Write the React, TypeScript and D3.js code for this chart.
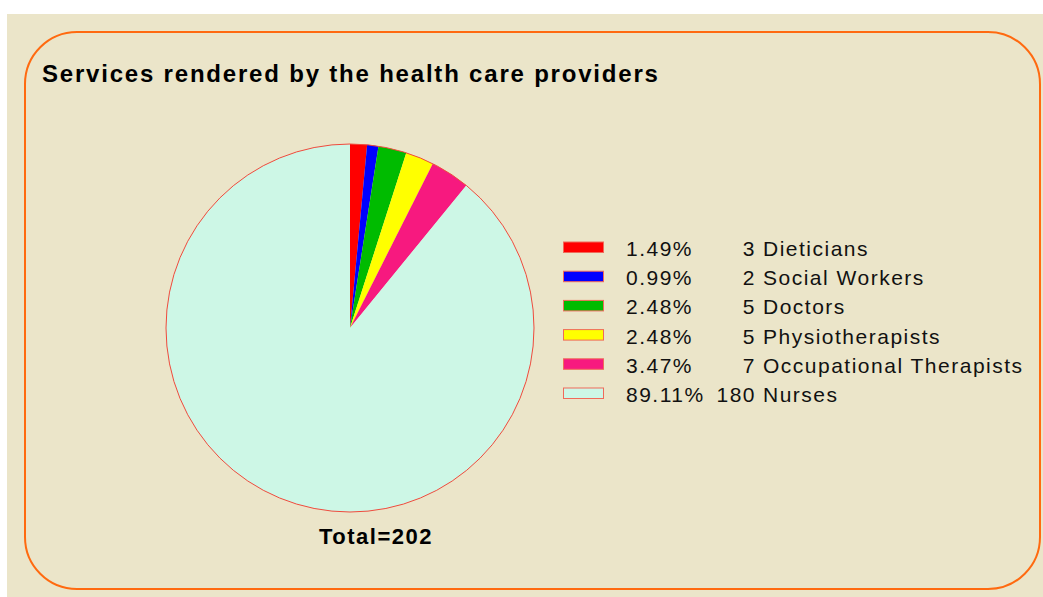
import * as d3 from "d3"

const categories = ["Dieticians", "Social Workers", "Doctors", "Physiotherapists", "Occupational Therapists", "Nurses"]
const counts = [3, 2, 5, 5, 7, 180]
const percentLabels = ["1.49%", "0.99%", "2.48%", "2.48%", "3.47%", "89.11%"]
const colors = ["#ff0000", "#0000ff", "#00bb00", "#ffff00", "#f7197f", "#cdf7e6"]
const title = "Services rendered by the health care providers"
const totalLabel = "Total=202"

export default function App() {
  const width = 1043
  const height = 597
  const cx = 350
  const cy = 328
  const radius = 184

  const pie = d3.pie<number>().sort(null).value((d) => d)
  const arcs = pie(counts)
  const arc = d3.arc<d3.PieArcDatum<number>>().innerRadius(0).outerRadius(radius)

  // legend rows
  const rowY = d3.scaleLinear().domain([0, 1]).range([256, 256 + 29.2])
  const font = "'Liberation Sans', Arial, sans-serif"

  return (
    <svg
      width={width}
      height={height}
      style={{ position: "absolute", left: 0, top: 0, fontFamily: font }}
    >
      <rect x={0} y={0} width={width} height={height} fill="#ffffff" />
      <rect x={7} y={14} width={width - 7} height={height - 14} fill="#ebe5c9" />
      <rect
        x={25}
        y={32}
        width={1015}
        height={557}
        rx={52}
        ry={52}
        fill="none"
        stroke="#ff6a10"
        strokeWidth={2}
      />

      <text x={42} y={82} fontSize={24} fontWeight="bold" letterSpacing={1.8} fill="#000">
        {title}
      </text>

      <g transform={`translate(${cx},${cy})`}>
        {arcs.map((a, i) => (
          <path key={categories[i]} d={arc(a) || ""} fill={colors[i]} />
        ))}
        <circle r={radius} fill="none" stroke="#f04a3c" strokeWidth={1} />
      </g>

      <text x={376} y={544} fontSize={22} fontWeight="bold" letterSpacing={1.5} textAnchor="middle" fill="#000">
        {totalLabel}
      </text>

      <g fontSize={21} letterSpacing={1.5} fill="#111">
        {categories.map((c, i) => {
          const y = rowY(i)
          return (
            <g key={c}>
              <rect x={563.5} y={y - 14} width={40} height={10.5} fill={colors[i]} stroke="#f06a5a" strokeWidth={1} />
              <text x={626} y={y}>{percentLabels[i]}</text>
              <text x={756} y={y} textAnchor="end">{counts[i]}</text>
              <text x={763} y={y}>{c}</text>
            </g>
          )
        })}
      </g>
    </svg>
  )
}
